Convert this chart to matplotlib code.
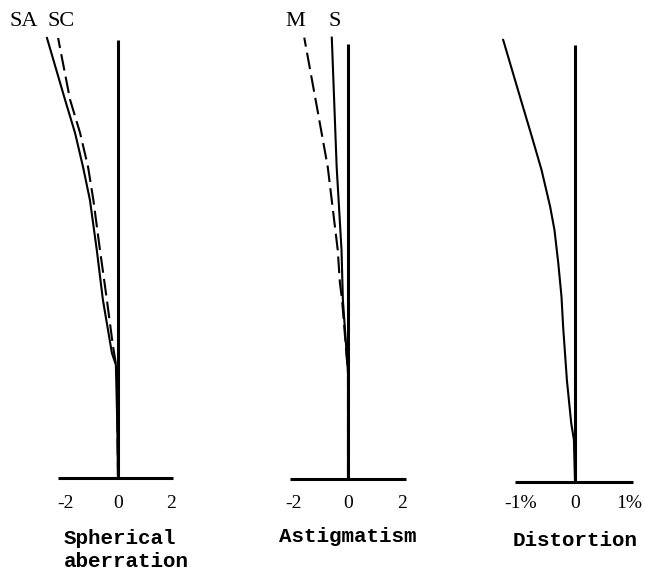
import matplotlib
matplotlib.use('Agg')
import matplotlib.pyplot as plt

W, H = 645, 572

# spherical aberration (relative height, defocus)
sa_h = [0.0, 0.13, 0.257, 0.284, 0.405, 0.518, 0.632, 0.707, 0.784, 0.86, 1.0]
sa_x = [0.0, -0.03, -0.08, -0.23, -0.57, -0.80, -1.06, -1.32, -1.62, -2.0, -2.68]
sc_h = [0.0, 0.245, 0.30, 0.405, 0.518, 0.632, 0.707, 0.784, 0.86, 1.0]
sc_x = [0.0, -0.04, -0.19, -0.42, -0.68, -0.93, -1.13, -1.43, -1.81, -2.26]

# astigmatism
s_h = [0.0, 0.243, 0.41, 0.524, 0.714, 1.01]
s_x = [0.0, 0.0, -0.19, -0.24, -0.42, -0.60]
m_h = [0.0, 0.243, 0.41, 0.449, 0.524, 0.714, 0.844, 1.01]
m_x = [0.0, 0.0, -0.22, -0.30, -0.38, -0.75, -1.13, -1.62]

# distortion (%)
d_h = [0.0, 0.096, 0.134, 0.232, 0.354, 0.422, 0.499, 0.574, 0.627, 0.711, 0.787, 0.878, 1.007]
d_x = [0.0, -0.02, -0.07, -0.15, -0.22, -0.25, -0.31, -0.38, -0.46, -0.62, -0.80, -1.02, -1.33]

sa_ticks = [-2, 0, 2]
sa_ticklabels = ['-2', '0', '2']
ast_ticks = [-2, 0, 2]
ast_ticklabels = ['-2', '0', '2']
dist_ticks = [-1, 0, 1]
dist_ticklabels = ['-1%', '0', '1%']


def make_panel(fig, x0, x1, cx, ppu, base, top):
    # axes spans full figure height; limits chosen so data maps onto pixels
    ax = fig.add_axes([x0 / W, 0, (x1 - x0) / W, 1])
    span = base - top
    ax.set_xlim((x0 - cx) / ppu, (x1 - cx) / ppu)
    ax.set_ylim((base - H) / span, base / span)
    ax.axis('off')
    return ax


def frame(ax, left, right, top_h):
    ax.plot([left, right], [0, 0], color='black', lw=2.2, solid_capstyle='butt')
    ax.plot([0, 0], [0, top_h], color='black', lw=2.2, solid_capstyle='butt')


def ticks(ax, pos, labels, py=503):
    tr = ax.get_xaxis_transform()
    for p, l in zip(pos, labels):
        ax.text(p, 1 - py / H, l, transform=tr, ha='center', va='center',
                fontsize=14, family='Liberation Serif')


def title(ax, x, txt, py, ha='center'):
    ax.text(x, 1 - py / H, txt, transform=ax.get_xaxis_transform(), ha=ha, va='center',
            fontsize=15, family='Liberation Mono', fontweight='bold', linespacing=1.3)


def curve_label(ax, x, txt):
    ax.text(x, 1 - 21 / H, txt, transform=ax.get_xaxis_transform(), ha='center',
            va='center', fontsize=16, family='Liberation Serif')


fig = plt.figure(figsize=(W / 100, H / 100), dpi=100)

# panel 1
ax1 = make_panel(fig, 0, 240, 118, 26.5, 478, 38)
frame(ax1, -2.26, 2.08, 0.995)
ax1.plot(sa_x, sa_h, color='black', lw=1.5)
ax1.plot(sc_x, sc_h, color='black', lw=1.5, dashes=(8, 3))
ticks(ax1, sa_ticks, sa_ticklabels)
title(ax1, -2.05, 'Spherical\naberration', 550, ha='left')
curve_label(ax1, -3.55, 'SA')
curve_label(ax1, -2.15, 'SC')

# panel 2
ax2 = make_panel(fig, 240, 460, 348, 27, 479, 42)
frame(ax2, -2.15, 2.15, 0.995)
ax2.plot(s_x, s_h, color='black', lw=1.5)
ax2.plot(m_x, m_h, color='black', lw=1.5, dashes=(8, 3))
ticks(ax2, ast_ticks, ast_ticklabels)
title(ax2, 0, 'Astigmatism', 537)
curve_label(ax2, -1.94, 'M')
curve_label(ax2, -0.48, 'S')

# panel 3
ax3 = make_panel(fig, 460, 645, 575, 54, 482, 43)
frame(ax3, -1.11, 1.07, 0.995)
ax3.plot(d_x, d_h, color='black', lw=1.5)
ticks(ax3, dist_ticks, dist_ticklabels)
title(ax3, 0, 'Distortion', 540)

fig.savefig('out.png', dpi=100)
